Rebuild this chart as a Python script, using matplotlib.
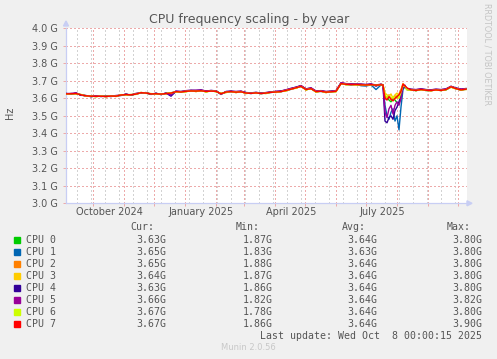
import numpy as np
import matplotlib.pyplot as plt
from matplotlib.patches import Rectangle, Polygon
from matplotlib.transforms import blended_transform_factory

W, H = 497, 359

start = np.datetime64('2024-09-04')
# sample days since start (finer around the July dip)
days = list(range(0, 316, 5)) + list(range(317, 342, 2)) + list(range(345, 401, 5))

# MHz values
cpu0 = [3627, 3624, 3629, 3618, 3615, 3610, 3613, 3611, 3612, 3611, 3614, 3617, 3623, 3618, 3626, 3630,
        3632, 3623, 3628, 3622, 3629, 3628, 3636, 3638, 3638, 3644, 3639, 3645, 3637, 3643, 3638, 3628,
        3634, 3640, 3633, 3639, 3628, 3630, 3629, 3629, 3628, 3636, 3634, 3640, 3643, 3654, 3658, 3670,
        3648, 3657, 3636, 3642, 3633, 3639, 3638, 3686, 3678, 3680, 3677, 3679, 3674, 3680, 3673, 3679,
        3677, 3600, 3610, 3590, 3580, 3600, 3590, 3575, 3570, 3610, 3670, 3660, 3652,
        3650, 3643, 3652, 3644, 3646, 3646, 3647, 3648, 3664, 3657, 3646, 3654]
cpu1 = [3624, 3627, 3626, 3621, 3613, 3613, 3610, 3613, 3609, 3614, 3611, 3620, 3620, 3621, 3623, 3633,
        3629, 3626, 3625, 3625, 3626, 3631, 3639, 3635, 3641, 3641, 3642, 3642, 3640, 3640, 3641, 3625,
        3637, 3637, 3636, 3636, 3631, 3627, 3632, 3626, 3631, 3633, 3637, 3637, 3646, 3651, 3661, 3667,
        3651, 3654, 3639, 3639, 3636, 3636, 3641, 3683, 3681, 3676, 3680, 3672, 3670, 3677, 3650, 3676,
        3676, 3560, 3500, 3480, 3520, 3540, 3470, 3500, 3420, 3550, 3650, 3670, 3650,
        3647, 3646, 3649, 3647, 3643, 3649, 3644, 3651, 3665, 3654, 3649, 3651]
cpu2 = [3626, 3625, 3628, 3619, 3615, 3611, 3612, 3612, 3611, 3612, 3613, 3618, 3622, 3619, 3625, 3631,
        3631, 3624, 3627, 3623, 3628, 3629, 3637, 3637, 3639, 3643, 3640, 3644, 3638, 3642, 3639, 3627,
        3635, 3639, 3634, 3638, 3629, 3629, 3630, 3628, 3629, 3635, 3635, 3639, 3644, 3653, 3659, 3669,
        3649, 3656, 3637, 3641, 3634, 3638, 3639, 3685, 3679, 3679, 3678, 3678, 3675, 3679, 3674, 3678,
        3676, 3610, 3600, 3620, 3590, 3605, 3615, 3600, 3625, 3650, 3685, 3670, 3655,
        3649, 3644, 3651, 3645, 3645, 3647, 3646, 3649, 3667, 3656, 3647, 3653]
cpu3 = [3623, 3627, 3625, 3621, 3612, 3614, 3609, 3614, 3608, 3615, 3610, 3621, 3619, 3622, 3622, 3634,
        3628, 3627, 3624, 3626, 3625, 3632, 3635, 3638, 3637, 3645, 3638, 3646, 3636, 3644, 3637, 3629,
        3632, 3641, 3632, 3640, 3627, 3631, 3628, 3630, 3627, 3637, 3633, 3641, 3642, 3655, 3657, 3671,
        3647, 3658, 3635, 3643, 3632, 3640, 3637, 3687, 3677, 3681, 3676, 3680, 3673, 3681, 3672, 3680,
        3678, 3630, 3620, 3610, 3625, 3600, 3620, 3630, 3615, 3640, 3675, 3665, 3650,
        3646, 3647, 3648, 3648, 3642, 3650, 3643, 3652, 3663, 3653, 3650, 3650]
cpu4 = [3628, 3623, 3630, 3617, 3616, 3609, 3614, 3610, 3613, 3610, 3615, 3616, 3624, 3617, 3627, 3629,
        3633, 3622, 3629, 3621, 3630, 3612, 3640, 3639, 3643, 3646, 3645, 3648, 3641, 3645, 3642, 3622,
        3639, 3641, 3638, 3640, 3633, 3631, 3634, 3630, 3632, 3637, 3639, 3642, 3648, 3656, 3664, 3672,
        3654, 3659, 3641, 3644, 3638, 3641, 3643, 3688, 3683, 3682, 3682, 3680, 3679, 3681, 3670, 3680,
        3675, 3470, 3460, 3490, 3500, 3480, 3530, 3550, 3580, 3620, 3660, 3665, 3655,
        3652, 3649, 3654, 3650, 3648, 3652, 3649, 3654, 3668, 3659, 3652, 3656]
cpu5 = [3627, 3628, 3631, 3619, 3614, 3611, 3615, 3612, 3612, 3612, 3616, 3618, 3623, 3619, 3628, 3631,
        3632, 3624, 3628, 3623, 3629, 3620, 3641, 3638, 3644, 3645, 3646, 3647, 3642, 3644, 3643, 3624,
        3638, 3640, 3639, 3641, 3632, 3630, 3633, 3629, 3633, 3636, 3640, 3641, 3649, 3657, 3663, 3673,
        3653, 3660, 3642, 3643, 3639, 3640, 3644, 3689, 3684, 3683, 3681, 3681, 3678, 3682, 3676, 3681,
        3676, 3520, 3490, 3540, 3560, 3510, 3560, 3580, 3560, 3600, 3670, 3675, 3650,
        3651, 3650, 3653, 3649, 3649, 3651, 3650, 3653, 3669, 3658, 3653, 3655]
cpu6 = [3624, 3625, 3626, 3622, 3613, 3612, 3610, 3613, 3611, 3613, 3612, 3620, 3620, 3620, 3624, 3632,
        3630, 3626, 3625, 3624, 3627, 3630, 3637, 3637, 3640, 3642, 3641, 3643, 3638, 3641, 3640, 3626,
        3636, 3638, 3636, 3637, 3630, 3628, 3631, 3627, 3630, 3634, 3636, 3638, 3645, 3652, 3660, 3668,
        3650, 3655, 3638, 3640, 3635, 3637, 3640, 3684, 3680, 3678, 3679, 3677, 3676, 3678, 3675, 3677,
        3675, 3620, 3605, 3615, 3600, 3610, 3595, 3620, 3600, 3635, 3672, 3668, 3648,
        3648, 3645, 3650, 3646, 3644, 3648, 3645, 3650, 3666, 3655, 3648, 3652]
cpu7 = [3625, 3626, 3627, 3620, 3614, 3612, 3611, 3612, 3610, 3613, 3612, 3619, 3621, 3620, 3624, 3632,
        3630, 3625, 3626, 3624, 3627, 3630, 3638, 3636, 3640, 3642, 3641, 3643, 3639, 3641, 3640, 3626,
        3636, 3638, 3635, 3637, 3630, 3628, 3631, 3627, 3630, 3634, 3636, 3638, 3645, 3652, 3660, 3668,
        3650, 3655, 3638, 3640, 3635, 3637, 3640, 3684, 3680, 3678, 3679, 3677, 3676, 3678, 3675, 3677,
        3676, 3600, 3590, 3610, 3595, 3585, 3600, 3610, 3620, 3640, 3680, 3670, 3660,
        3648, 3645, 3650, 3646, 3644, 3648, 3645, 3650, 3666, 3655, 3648, 3652]

series = [cpu0, cpu1, cpu2, cpu3, cpu4, cpu5, cpu6, cpu7]
names = ['CPU 0', 'CPU 1', 'CPU 2', 'CPU 3', 'CPU 4', 'CPU 5', 'CPU 6', 'CPU 7']
colors = ['#00CC00', '#0066B3', '#FF8000', '#FFCC00', '#330099', '#990099', '#CCFF00', '#FF0000']
cur = ['3.63G', '3.65G', '3.65G', '3.64G', '3.63G', '3.66G', '3.67G', '3.67G']
mins = ['1.87G', '1.83G', '1.88G', '1.87G', '1.86G', '1.82G', '1.78G', '1.86G']
avgs = ['3.64G', '3.63G', '3.64G', '3.64G', '3.64G', '3.64G', '3.64G', '3.64G']
maxs = ['3.80G', '3.80G', '3.80G', '3.80G', '3.80G', '3.82G', '3.80G', '3.90G']
yticks = [3.0, 3.1, 3.2, 3.3, 3.4, 3.5, 3.6, 3.7, 3.8, 3.9, 4.0]
month_labels = ['October 2024', 'January 2025', 'April 2025', 'July 2025']
month_label_dates = ['2024-10-17', '2025-01-17', '2025-04-17', '2025-07-17']

txt = '#555555'
mgrid = '#EDAAAA'
grid = '#D2D2D2'
axcol = '#C8CEF4'


def fx(x):
    return x / W


def fy(y):
    return 1 - y / H


fig = plt.figure(figsize=(W / 100, H / 100), dpi=100, facecolor='#F0F0F0')
ax = fig.add_axes([fx(66), fy(203.3), 401 / W, 175 / H])
ax.set_facecolor('white')

x = start + np.array(days).astype('timedelta64[D]')
x0, x1 = start, start + np.timedelta64(401, 'D')

# grid, dotted like rrdtool
dots = dict(lw=1.0, ls=(0, (1, 2)), antialiased=False)
minor = np.arange(np.datetime64('2024-09-15'), x1, np.timedelta64(14, 'D'))
for m in minor:
    ax.axvline(m, color=grid, zorder=1, **dots)
months = np.arange(np.datetime64('2024-10'), np.datetime64('2025-11'), np.timedelta64(1, 'M')).astype('datetime64[D]')
for m in months:
    if m < x1:
        ax.axvline(m, color=mgrid, zorder=2, **dots)
for v in yticks[1:]:
    ax.axhline(v, color=mgrid, zorder=2, **dots)

for s, c in zip(series, colors):
    ax.plot(x, np.array(s) / 1000.0, color=c, lw=1.0, zorder=3)

ax.set_xlim(x0, x1)
ax.set_ylim(3.0, 4.0)
ax.set_yticks(yticks)
ax.set_yticklabels([f'{v:.1f} G' for v in yticks], color=txt, fontsize=7)
ax.set_xticks(months[months < x1])
ax.set_xticklabels([])
ax.tick_params(axis='both', length=2, width=0.72, color=mgrid, pad=4)
for sp in ['top', 'right']:
    ax.spines[sp].set_visible(False)
for sp in ['left', 'bottom']:
    ax.spines[sp].set_color(axcol)
    ax.spines[sp].set_linewidth(0.9)

tr = blended_transform_factory(ax.transData, fig.transFigure)
for lab, d in zip(month_labels, month_label_dates):
    ax.text(np.datetime64(d), fy(212), lab, transform=tr, ha='center', va='center',
            fontsize=7, color=txt)

# axis arrows
fig.add_artist(Polygon([[fx(63.5), fy(26)], [fx(68.5), fy(26)], [fx(66), fy(21)]],
                       closed=True, color=axcol, transform=fig.transFigure))
fig.add_artist(Polygon([[fx(467), fy(200.8)], [fx(467), fy(205.8)], [fx(472), fy(203.3)]],
                       closed=True, color=axcol, transform=fig.transFigure))

fig.text(fx(249), fy(19), 'CPU frequency scaling - by year', ha='center', va='center',
         fontsize=9, color=txt)
fig.text(fx(10), fy(113), 'Hz', rotation=90, ha='center', va='center', fontsize=7, color=txt)
fig.text(fx(487), fy(54), 'RRDTOOL / TOBI OETIKER', rotation=270, ha='center', va='center',
         fontsize=5.8, color='#C4C4C4')

# legend table
mono = dict(family='DejaVu Sans Mono', fontsize=7.1, color=txt, va='center')
fig.text(fx(154.5), fy(227.3), 'Cur:', ha='right', **mono)
fig.text(fx(260), fy(227.3), 'Min:', ha='right', **mono)
fig.text(fx(365.7), fy(227.3), 'Avg:', ha='right', **mono)
fig.text(fx(470.3), fy(227.3), 'Max:', ha='right', **mono)
for i in range(8):
    y = 240 + i * 11.95
    fig.add_artist(Rectangle((fx(14), fy(y + 3)), 6 / W, 6 / H, color=colors[i],
                             transform=fig.transFigure))
    fig.text(fx(26.3), fy(y), names[i], ha='left', **mono)
    fig.text(fx(166.7), fy(y), cur[i], ha='right', **mono)
    fig.text(fx(272.7), fy(y), mins[i], ha='right', **mono)
    fig.text(fx(377.7), fy(y), avgs[i], ha='right', **mono)
    fig.text(fx(482.3), fy(y), maxs[i], ha='right', **mono)
fig.text(fx(482.3), fy(335.7), 'Last update: Wed Oct  8 00:00:15 2025', ha='right', **mono)
fig.text(fx(248), fy(347.7), 'Munin 2.0.56', ha='center', va='center', fontsize=6,
         color='#C8C8C8')

fig.savefig('out.png', dpi=100, facecolor=fig.get_facecolor())
